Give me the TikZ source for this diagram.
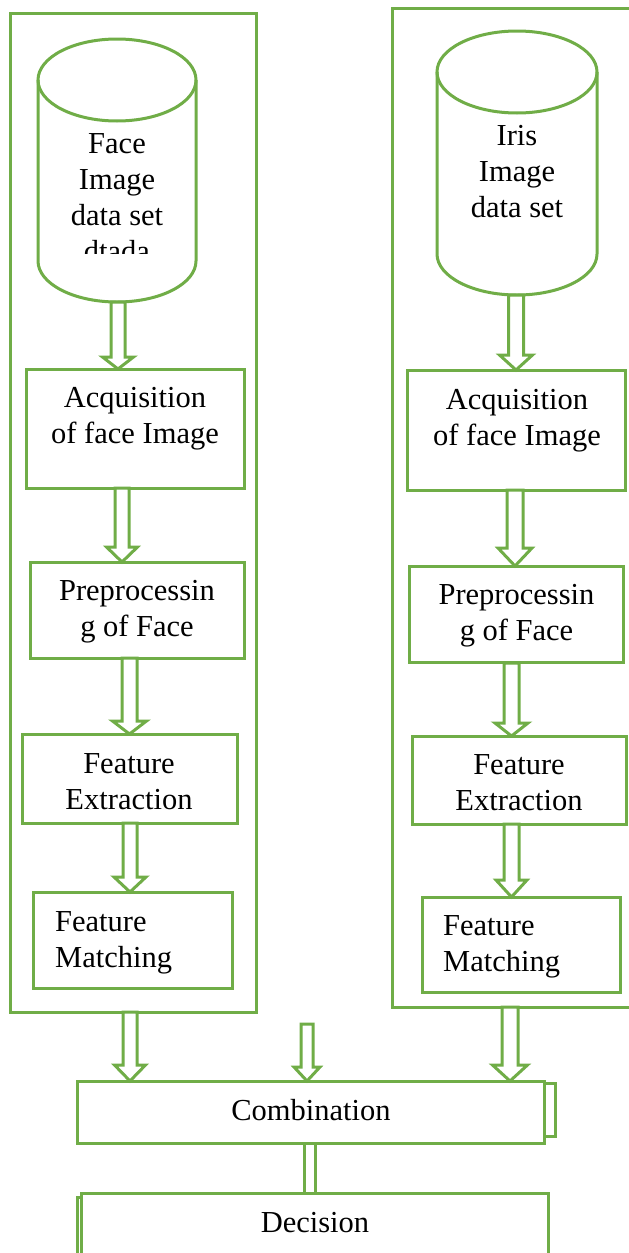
\documentclass[tikz,border=0pt]{standalone}
\usepackage{fontspec}
\setmainfont{Liberation Serif}
\definecolor{lgreen}{RGB}{112,173,71}
\newcommand\tl[2][c]{\begin{tabular}[t]{@{}#1@{}}#2\end{tabular}}
\newcommand\blockarrow[6]{\draw[barrow] ({#1-#5},#2) -- ({#1-#5},#3) -- ({#1-#6},#3) -- (#1,#4) -- ({#1+#6},#3) -- ({#1+#5},#3) -- ({#1+#5},#2) -- cycle;}
\begin{document}
\begin{tikzpicture}[x=1pt,y=-1pt,
  gline/.style={draw=lgreen,line width=3pt},
  box/.style={gline,fill=white,rectangle,inner sep=0pt},
  barrow/.style={gline,fill=white,line join=miter},
  lbl/.style={inner sep=0pt,anchor=base,font=\fontsize{30.5}{36}\selectfont},
  lbll/.style={lbl,anchor=base west}]
\useasboundingbox (0,0) rectangle (629,1253);
\clip (0,0) rectangle (629,1253);
% outer frames
\draw[gline] (10,13) rectangle (256,1012);
\draw[gline] (392,8) rectangle (660,1007);
% left cylinder
\draw[gline,fill=white] (38,80) -- (38,261) .. controls (38,283.6) and (73.4,302) .. (117,302) .. controls (160.6,302) and (196,283.6) .. (196,261) -- (196,80);
\draw[gline] (117,80) ellipse [x radius=79pt, y radius=41pt];
\coordinate (cylL) at (117,302);
\begin{scope}
\clip (38,40) rectangle (196,253);
\node[lbl] (tcylL) at (117,153) {\tl{Face\\Image\\data set\\dtada}};
\end{scope}
% right cylinder
\draw[gline,fill=white] (437,72) -- (437,254) .. controls (437,276.6) and (472.8,295) .. (517,295) .. controls (561.2,295) and (597,276.6) .. (597,254) -- (597,72);
\draw[gline] (517,72) ellipse [x radius=80pt, y radius=41pt];
\coordinate (cylR) at (517,295);
\node[lbl] (tcylR) at (517,145) {\tl{Iris\\Image\\data set}};
% left boxes
\node[box,minimum width=218pt,minimum height=119pt] (A1) at (135,428.5) {};
\node[box,minimum width=214pt,minimum height=96pt] (P1) at (137,610) {};
\node[box,minimum width=215pt,minimum height=89pt] (F1) at (129.5,778.5) {};
\node[box,minimum width=199pt,minimum height=96pt] (M1) at (132.5,940) {};
\node[lbl] (tA1) at (135,407) {\tl{Acquisition\\of face Image}};
\node[lbl] (tP1) at (137,600) {\tl{Preprocessin\\g of Face}};
\node[lbl] (tF1) at (129,773) {\tl{Feature\\Extraction}};
\node[lbll] (tM1) at (55,931) {\tl[l]{Feature\\Matching}};
% right boxes
\node[box,minimum width=218pt,minimum height=120pt] (A2) at (516,430) {};
\node[box,minimum width=214pt,minimum height=96pt] (P2) at (516,614) {};
\node[box,minimum width=214pt,minimum height=88pt] (F2) at (519,780) {};
\node[box,minimum width=198pt,minimum height=95pt] (M2) at (521,944.5) {};
\node[lbl] (tA2) at (517,409) {\tl{Acquisition\\of face Image}};
\node[lbl] (tP2) at (516.5,604) {\tl{Preprocessin\\g of Face}};
\node[lbl] (tF2) at (519,774) {\tl{Feature\\Extraction}};
\node[lbll] (tM2) at (443,935) {\tl[l]{Feature\\Matching}};
% arrows left column
\blockarrow{118}{302}{357}{369}{7}{15.5}
\blockarrow{122}{488}{547}{562}{7}{15.5}
\blockarrow{129.5}{658}{721}{734}{7.5}{17}
\blockarrow{130}{823}{877}{892}{7}{16}
% arrows right column
\blockarrow{516}{295}{355}{370}{7.5}{16.5}
\blockarrow{515}{490}{548}{566}{8}{17}
\blockarrow{511.5}{663}{723}{736}{7.5}{16.5}
\blockarrow{511.5}{824}{880}{897}{7.5}{15.5}
% bottom: combination
\draw[gline,fill=white] (540,1083) rectangle (555,1136);
\node[box,minimum width=467pt,minimum height=62pt] (comb) at (310.5,1112) {};
\node[lbl] (tcomb) at (311,1120) {Combination};
\blockarrow{130}{1012}{1065}{1081}{7}{15.5}
\blockarrow{307}{1024}{1067}{1081}{6}{13}
\blockarrow{510}{1007}{1065}{1081}{8}{17.5}
% link and decision
\draw[gline,fill=white] (304,1143) rectangle (315,1193);
\draw[gline,fill=white] (77,1197) rectangle (544,1290);
\node[box,minimum width=467pt,minimum height=94pt] (dec) at (314.5,1240) {};
\node[lbl] (tdec) at (315,1232) {Decision};
\end{tikzpicture}
\end{document}
